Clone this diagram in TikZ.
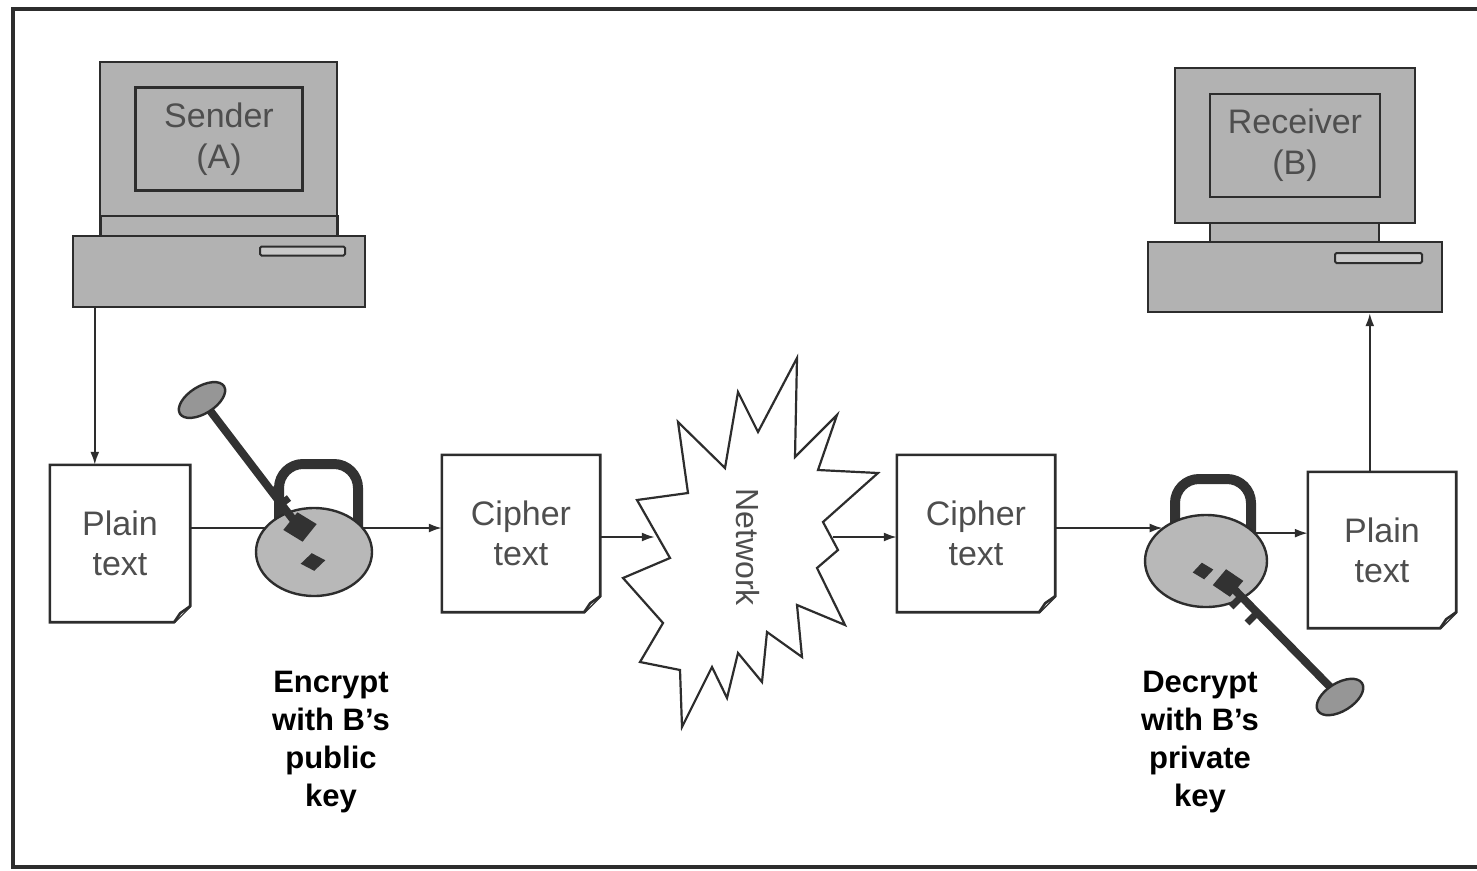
\documentclass[tikz,border=0pt]{standalone}
\usepackage{fontspec}
\setmainfont{Liberation Sans}
\usetikzlibrary{arrows.meta,shapes.geometric,calc}

\definecolor{edge}{RGB}{45,45,45}
\definecolor{dark}{RGB}{50,50,50}
\definecolor{txtgray}{RGB}{78,78,78}
\definecolor{pcgray}{RGB}{178,178,178}
\definecolor{lockgray}{RGB}{184,184,184}
\definecolor{keygray}{RGB}{150,150,150}

% page outline with a curled bottom-right corner around a named node
\newcommand\pagecorner[1]{%
  \draw[docline] (#1.north west) -- (#1.north east) -- ([yshift=16pt]#1.south east)
    -- ([xshift=-16pt]#1.south east) -- (#1.south west) -- cycle;
  \draw[docline, fill=white] ([yshift=16pt]#1.south east)
    -- ([xshift=-10pt,yshift=9pt]#1.south east) -- ([xshift=-16pt]#1.south east);
}

\begin{document}
\begin{tikzpicture}[x=1pt,y=-1pt,
  docbox/.style={inner sep=0pt, align=center, text=txtgray,
    font=\fontsize{34}{40}\selectfont},
  docline/.style={draw=edge, line width=2.6pt, line join=miter},
  pcpart/.style={draw=edge, fill=pcgray, line width=2.4pt, inner sep=0pt},
  screen/.style={pcpart, line width=2.8pt, align=center, text=txtgray,
    font=\fontsize{34}{41}\selectfont},
  slot/.style={draw=edge, fill=pcgray!70, line width=2pt, inner sep=0pt,
    rounded corners=1.5pt},
  link/.style={draw=edge, line width=2pt},
  arr/.style={link, -{Latex[length=13pt,width=9pt]}},
  caption/.style={align=center, text=black,
    font=\fontsize{31}{38}\selectfont\bfseries},
  lockbody/.style={ellipse, draw=edge, fill=lockgray, line width=2.4pt,
    inner sep=0pt},
  shackle/.style={draw=dark, line width=10pt, rounded corners=24pt},
  keybar/.style={draw=dark, line width=8pt},
  keytooth/.style={draw=dark, line width=7pt},
  keyring/.style={ellipse, draw=edge, fill=keygray, line width=2.4pt,
    inner sep=0pt},
  keyhole/.style={diamond, fill=dark, inner sep=0pt},
  cloud/.style={draw=edge, fill=white, line width=2.2pt, line join=miter}]

\useasboundingbox (0,0) rectangle (1477,870);
\draw[edge, line width=3.5pt] (13,9) rectangle (1500,867);

% ---------- sender computer ----------
\node[pcpart, minimum width=237pt, minimum height=20pt] (neckA) at (219,226) {};
\node[pcpart, minimum width=237pt, minimum height=154pt] (monA) at (218.5,139) {};
\node[screen, minimum width=167pt, minimum height=103pt] (scrA) at (219,139) {Sender\\(A)};
\node[pcpart, minimum width=292pt, minimum height=71pt] (baseA) at (219,271.5) {};
\node[slot, minimum width=85pt, minimum height=9pt] (slotA) at (302.5,251) {};

% ---------- receiver computer ----------
\node[pcpart, minimum width=169pt, minimum height=20pt] (neckB) at (1294.5,232) {};
\node[pcpart, minimum width=240pt, minimum height=155pt] (monB) at (1295,145.5) {};
\node[screen, minimum width=170pt, minimum height=103pt] (scrB) at (1295,145.5) {Receiver\\(B)};
\node[pcpart, minimum width=294pt, minimum height=70pt] (baseB) at (1295,277) {};
\node[slot, minimum width=87pt, minimum height=10pt] (slotB) at (1378.5,258) {};

% ---------- documents ----------
\node[docbox, minimum width=140pt, minimum height=157pt] (p1) at (120,543.5) {Plain\\text};
\node[docbox, minimum width=158pt, minimum height=157pt] (c1) at (521,533.5) {Cipher\\text};
\node[docbox, minimum width=158pt, minimum height=157pt] (c2) at (976,533.5) {Cipher\\text};
\node[docbox, minimum width=148pt, minimum height=156pt] (p2) at (1382,550) {Plain\\text};
\pagecorner{p1}
\pagecorner{c1}
\pagecorner{c2}
\pagecorner{p2}

% ---------- network cloud ----------
\draw[cloud] (797,358) -- (795,457) -- (837,415) -- (818,470) -- (878,473)
  -- (823,522) -- (838,550) -- (817,568) -- (845,625) -- (797,605)
  -- (802,657) -- (767,632) -- (762,682) -- (738,653) -- (727,698)
  -- (712,667) -- (682,727) -- (680,670) -- (640,662) -- (663,623)
  -- (623,578) -- (670,558) -- (637,500) -- (688,493) -- (678,422)
  -- (725,468) -- (738,392) -- (758,432) -- cycle;
\node[inner sep=0pt, minimum width=178pt, minimum height=10pt] (net) at (744,537) {};
\node[rotate=-90, text=txtgray, font=\fontsize{32}{38}\selectfont] (nettext) at (748,547) {Network};

% ---------- flow connectors ----------
\coordinate (dA) at ([xshift=45pt]p1.north west);
\draw[arr] (baseA.south -| dA) -- (dA);

\coordinate (uB) at ([xshift=62pt]p2.north west);
\draw[arr] (uB) -- (uB |- baseB.south);

\coordinate (lockAc) at (314,552);
\coordinate (lockBc) at (1206,561);

\coordinate (l1) at ([yshift=15.5pt]p1.east);
\draw[link] (l1) -- (l1 -| lockAc);
\draw[arr] (l1 -| lockAc) -- (l1 -| c1.west);

\draw[arr] ([yshift=-3.5pt]c1.east) -- (net.west);
\draw[arr] (net.east) -- (net.east -| c2.west);

% ---------- encrypting lock and key ----------
\draw[shackle] (279,530) -- (279,464) -- (358,464) -- (358,530);
\node[lockbody, minimum width=116pt, minimum height=88pt] (lockA) at (lockAc) {};
\node[keyhole, minimum width=25pt, minimum height=18pt, rotate=8] (holeA) at (313,562) {};
\coordinate (ringAc) at (202,400);
\draw[keybar] (ringAc) -- (298,526);
\draw[keytooth] (272,492) -- (280,486);
\draw[keytooth] (281,504) -- (289,498);
\node[keyhole, minimum width=34pt, minimum height=30pt, rotate=10] (bitA) at (300,527) {};
\node[keyring, minimum width=52pt, minimum height=27pt, rotate=32] (ringA) at (ringAc) {};

% ---------- decrypting lock and key ----------
\draw[shackle] (1175,532) -- (1175,479) -- (1251,479) -- (1251,536);
\node[lockbody, minimum width=122pt, minimum height=92pt] (lockB) at (lockBc) {};
\coordinate (l4) at ([yshift=5.5pt]c2.east);
\draw[arr] (l4) -- (l4 -| lockB.142);
\draw[arr] (lockB.29) -- (lockB.29 -| p2.west);
\node[keyhole, minimum width=21pt, minimum height=17pt, rotate=8] (holeB) at (1203,571) {};
\coordinate (ringBc) at (1340,697);
\draw[keybar] (1228,583) -- (ringBc);
\draw[keytooth] (1241,597) -- (1231,607);
\draw[keytooth] (1257,613) -- (1247,623);
\node[keyhole, minimum width=31pt, minimum height=28pt, rotate=8] (bitB) at (1228,583) {};
\node[keyring, minimum width=52pt, minimum height=28pt, rotate=32] (ringB) at (ringBc) {};

% ---------- captions ----------
\node[caption] (encl) at (331,742) {Encrypt\\with B's\\public\\key};
\node[caption] (decl) at (1200,742) {Decrypt\\with B's\\private\\key};

\end{tikzpicture}
\end{document}
